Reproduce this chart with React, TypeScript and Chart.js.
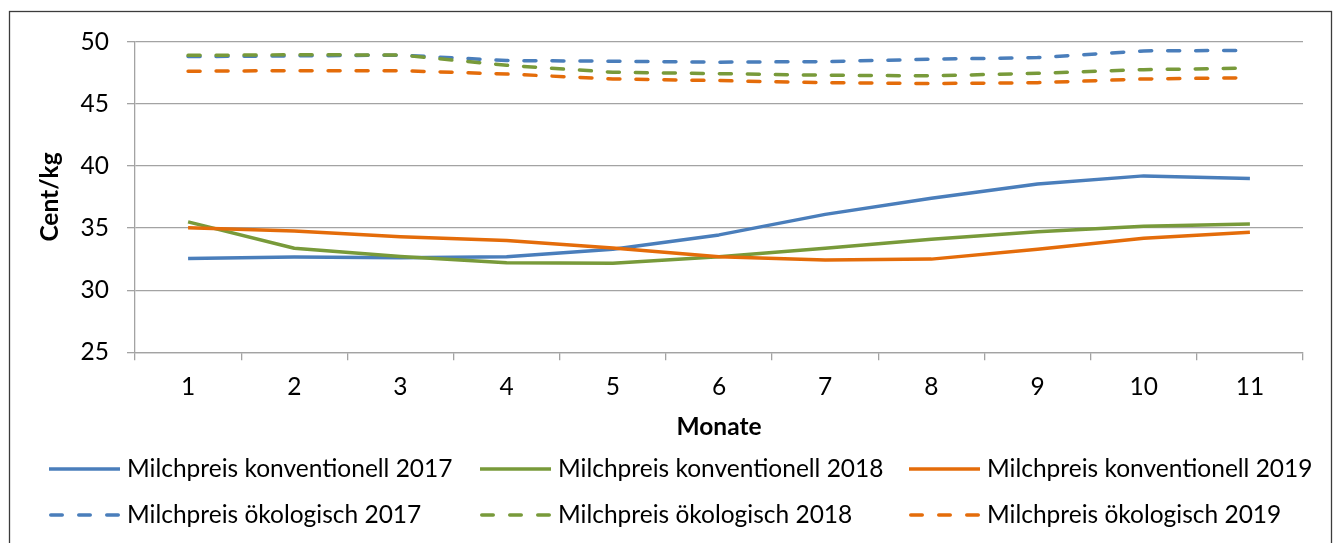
import React, { useEffect, useRef } from "react";
import { Chart, registerables } from "chart.js";

Chart.register(...registerables);

const months = ["1", "2", "3", "4", "5", "6", "7", "8", "9", "10", "11"];

const konv2017 = [32.55, 32.67, 32.62, 32.7, 33.3, 34.45, 36.1, 37.4, 38.55, 39.2, 38.98];
const konv2018 = [35.5, 33.37, 32.72, 32.2, 32.17, 32.7, 33.37, 34.1, 34.7, 35.15, 35.33];
const konv2019 = [35.03, 34.77, 34.3, 34.0, 33.4, 32.7, 32.43, 32.5, 33.3, 34.18, 34.66];
const oeko2017 = [48.8, 48.86, 48.92, 48.48, 48.43, 48.35, 48.4, 48.59, 48.72, 49.26, 49.3];
const oeko2018 = [48.9, 48.95, 48.93, 48.1, 47.54, 47.43, 47.3, 47.25, 47.46, 47.75, 47.87];
const oeko2019 = [47.62, 47.67, 47.67, 47.4, 47.0, 46.87, 46.7, 46.63, 46.7, 47.0, 47.1];

const seriesLabels = [
  "Milchpreis konventionell 2017",
  "Milchpreis konventionell 2018",
  "Milchpreis konventionell 2019",
  "Milchpreis ökologisch 2017",
  "Milchpreis ökologisch 2018",
  "Milchpreis ökologisch 2019",
];

const yMin = 25;
const yMax = 50;
const yStep = 5;

const BLUE = "#4A7EBB";
const GREEN = "#789A3A";
const ORANGE = "#E46C0A";
const GRID = "#A3A3A3";
const FONT = "Lato";
const FS = 24.5;

const legendPlugin = {
  id: "gridLegend",
  afterDraw(chart: any) {
    const ctx = chart.ctx as CanvasRenderingContext2D;
    const cols = [49, 480, 909];
    const rows = [469, 515];
    const lineLen = 71;
    ctx.save();
    chart.data.datasets.forEach((d: any, i: number) => {
      const x0 = cols[i % 3];
      const y = rows[Math.floor(i / 3)];
      const dashed = d.borderDash && d.borderDash.length > 0;
      ctx.beginPath();
      ctx.strokeStyle = d.borderColor;
      ctx.lineWidth = d.borderWidth;
      ctx.lineCap = dashed ? "round" : "butt";
      ctx.setLineDash(dashed ? [11.5, 16.5] : []);
      const cap = dashed ? d.borderWidth / 2 : 0;
      ctx.moveTo(x0 + cap, y);
      ctx.lineTo(x0 + lineLen - cap, y);
      ctx.stroke();
      ctx.setLineDash([]);
      ctx.fillStyle = "#000";
      ctx.font = `${FS}px ${FONT}`;
      ctx.textAlign = "left";
      ctx.textBaseline = "middle";
      ctx.fillText(d.label, x0 + 78, y);
    });
    ctx.restore();
  },
};

const framePlugin = {
  id: "frame",
  afterDraw(chart: any) {
    const ctx = chart.ctx as CanvasRenderingContext2D;
    ctx.save();
    ctx.strokeStyle = "#3C3C3C";
    ctx.lineWidth = 1.3;
    ctx.strokeRect(9.5, 11.5, 1322, 600);
    ctx.restore();
  },
};

export default function App() {
  const ref = useRef<HTMLCanvasElement | null>(null);

  useEffect(() => {
    if (!ref.current) return;
    const mk = (label: string, data: number[], color: string, dashed: boolean, order: number) => ({
      label,
      data,
      borderColor: color,
      backgroundColor: color,
      borderWidth: 3.5,
      borderDash: dashed ? [12, 16] : [],
      borderCapStyle: dashed ? "round" : "butt",
      borderJoinStyle: "round",
      pointRadius: 0,
      pointHoverRadius: 0,
      tension: 0,
      fill: false,
      order,
    });
    const chart = new Chart(ref.current, {
      type: "line",
      data: {
        labels: months,
        datasets: [
          mk(seriesLabels[0], konv2017, BLUE, false, 5),
          mk(seriesLabels[1], konv2018, GREEN, false, 4),
          mk(seriesLabels[2], konv2019, ORANGE, false, 3),
          mk(seriesLabels[3], oeko2017, BLUE, true, 2),
          mk(seriesLabels[4], oeko2018, GREEN, true, 1),
          mk(seriesLabels[5], oeko2019, ORANGE, true, 0),
        ] as any,
      },
      options: {
        animation: false,
        responsive: false,
        devicePixelRatio: 1,
        layout: { padding: { left: 0, top: 41.7, right: 30, bottom: 80.7 } },
        plugins: {
          legend: { display: false },
          tooltip: { enabled: false },
        },
        scales: {
          x: {
            offset: true,
            grid: {
              offset: true,
              drawOnChartArea: false,
              drawTicks: true,
              tickLength: 8,
              color: GRID,
              lineWidth: 1.3,
            },
            border: { color: GRID, width: 1.3 },
            ticks: {
              padding: 12,
              color: "#000",
              maxRotation: 0,
              autoSkip: false,
              font: { family: FONT, size: FS },
            },
            title: {
              display: true,
              text: "Monate",
              color: "#000",
              font: { family: FONT, size: FS, weight: "bold" },
              padding: { top: 0, bottom: 21 },
            },
            afterFit(s: any) {
              s.height = 110;
              s.paddingLeft = 0;
              s.paddingRight = 0;
            },
          },
          y: {
            min: yMin,
            max: yMax,
            ticks: {
              stepSize: yStep,
              padding: 18,
              color: "#000",
              font: { family: FONT, size: FS },
            },
            grid: {
              color: GRID,
              lineWidth: 1.3,
              drawTicks: true,
              tickLength: 8,
            },
            border: { color: GRID, width: 1.3 },
            title: {
              display: true,
              text: "Cent/kg",
              color: "#000",
              font: { family: FONT, size: FS, weight: "bold" },
              padding: { top: 35, bottom: 0 },
            },
            afterFit(s: any) {
              s.width = 135;
              s.paddingTop = 0;
              s.paddingBottom = 0;
            },
          },
        },
      } as any,
      plugins: [legendPlugin, framePlugin],
    });
    return () => chart.destroy();
  }, []);

  return (
    <div style={{ position: "fixed", left: 0, top: 0, width: 1333, height: 543, background: "#fff" }}>
      <canvas ref={ref} width={1333} height={543} style={{ display: "block" }} />
    </div>
  );
}
